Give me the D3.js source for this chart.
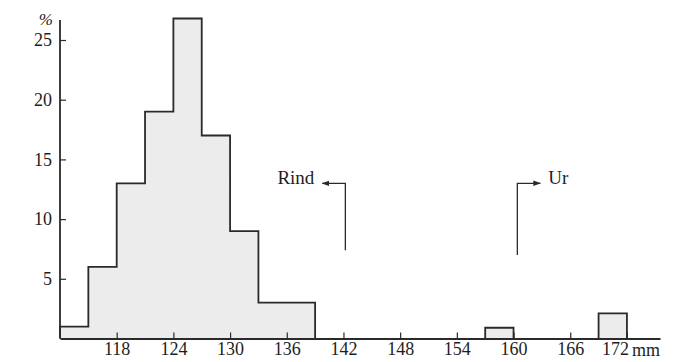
<!DOCTYPE html>
<html>
<head>
<meta charset="utf-8">
<script src="https://cdn.jsdelivr.net/npm/d3@7"></script>
<style>
  body { margin: 0; background: #fff; }
  svg text { font-family: "Liberation Serif", "DejaVu Serif", serif; fill: #1e1e1e; }
</style>
</head>
<body>
<div id="chart"></div>
<script>
// histogram bins (mm) and share in percent
var binStart = [112, 115, 118, 121, 124, 127, 130, 133, 136, 157, 169];
var binEnd   = [115, 118, 121, 124, 127, 130, 133, 136, 139, 160, 172];
var percent  = [1, 6, 13, 19, 26.8, 17, 9, 3, 3, 0.9, 2.1];

var xTicks = [118, 124, 130, 136, 142, 148, 154, 160, 166, 172];
var yTicks = [5, 10, 15, 20, 25];

// annotation arrows: label, x of the stem, top and bottom of the stem (%)
var notes = [
    { label: "Rind", x: 142.2, top: 13, bottom: 7.4, dir: -1 },
    { label: "Ur",   x: 160.4, top: 13, bottom: 7.0, dir: 1 }
];

var width = 694, height = 362;
var svg = d3.select("#chart").append("svg")
    .attr("width", width).attr("height", height);

var x = d3.scaleLinear().domain([112, 175.5]).range([60, 660]);
var y = d3.scaleLinear().domain([0, 25]).range([338.5, 40]);

var ink = "#2a2a2a";

// group touching bins so the outline is drawn as one step line
var groups = [];
percent.forEach(function (p, i) {
    if (i > 0 && binStart[i] === binEnd[i - 1]) {
        groups[groups.length - 1].push(i);
    } else {
        groups.push([i]);
    }
});

var area = d3.area()
    .curve(d3.curveStepAfter)
    .x(function (d) { return x(d[0]); })
    .y0(y(0))
    .y1(function (d) { return y(d[1]); });

var outline = d3.line()
    .curve(d3.curveStepAfter)
    .x(function (d) { return x(d[0]); })
    .y(function (d) { return y(d[1]); });

groups.forEach(function (g) {
    var pts = [[binStart[g[0]], 0]];
    g.forEach(function (i) { pts.push([binStart[i], percent[i]]); });
    pts.push([binEnd[g[g.length - 1]], 0]);
    svg.append("path")
        .attr("d", area(pts))
        .attr("fill", "#ececec");
    svg.append("path")
        .attr("d", outline(pts))
        .attr("fill", "none")
        .attr("stroke", ink)
        .attr("stroke-width", 1.8);
});

// x axis, ticks pointing up
var xAxis = svg.append("g")
    .attr("transform", "translate(0," + y(0) + ")")
    .call(d3.axisBottom(x).tickValues(xTicks).tickSizeInner(-6).tickSizeOuter(0).tickPadding(4));
xAxis.select(".domain").attr("stroke", ink).attr("stroke-width", 1.8);
xAxis.selectAll(".tick line").attr("stroke", ink).attr("stroke-width", 1.2);
xAxis.selectAll("text").attr("font-size", 18).attr("font-family", "Liberation Serif").attr("fill", "#1e1e1e");
// last label sits left of its tick to leave room for the unit
xAxis.selectAll(".tick text").filter(function (d) { return d === 172; }).attr("x", -12);

svg.append("text")
    .attr("x", x(172) + 5).attr("y", 356)
    .attr("font-size", 18)
    .text("mm");

// y axis, ticks pointing right
var yAxis = svg.append("g")
    .attr("transform", "translate(" + x(112) + ",0)")
    .call(d3.axisLeft(y).tickValues(yTicks).tickSizeInner(-6).tickSizeOuter(0).tickPadding(8));
yAxis.select(".domain").remove();
yAxis.selectAll(".tick line").attr("stroke", ink).attr("stroke-width", 1.2);
yAxis.selectAll("text").attr("font-size", 18).attr("font-family", "Liberation Serif").attr("fill", "#1e1e1e");

svg.append("line")
    .attr("x1", x(112)).attr("x2", x(112))
    .attr("y1", 20).attr("y2", y(0))
    .attr("stroke", ink).attr("stroke-width", 1.8);

svg.append("text")
    .attr("x", 53).attr("y", 25)
    .attr("text-anchor", "end")
    .attr("font-size", 17)
    .attr("font-style", "italic")
    .text("%");

// annotation arrows
svg.append("defs").append("marker")
    .attr("id", "head")
    .attr("viewBox", "0 0 10 10")
    .attr("refX", 9).attr("refY", 5)
    .attr("markerWidth", 6).attr("markerHeight", 6)
    .attr("orient", "auto")
    .append("path").attr("d", "M0,1.5L10,5L0,8.5Z").attr("fill", ink);

var note = svg.selectAll("g.note").data(notes).enter().append("g").attr("class", "note");
note.append("path")
    .attr("d", function (d) {
        return "M" + x(d.x) + "," + y(d.bottom) +
            "V" + y(d.top) +
            "H" + (x(d.x) + d.dir * 23);
    })
    .attr("fill", "none")
    .attr("stroke", ink)
    .attr("stroke-width", 1.3)
    .attr("marker-end", "url(#head)");
note.append("text")
    .attr("x", function (d) { return x(d.x) + d.dir * 31; })
    .attr("y", function (d) { return y(d.top) + 1; })
    .attr("text-anchor", function (d) { return d.dir < 0 ? "end" : "start"; })
    .attr("font-size", 19)
    .text(function (d) { return d.label; });
</script>
</body>
</html>
